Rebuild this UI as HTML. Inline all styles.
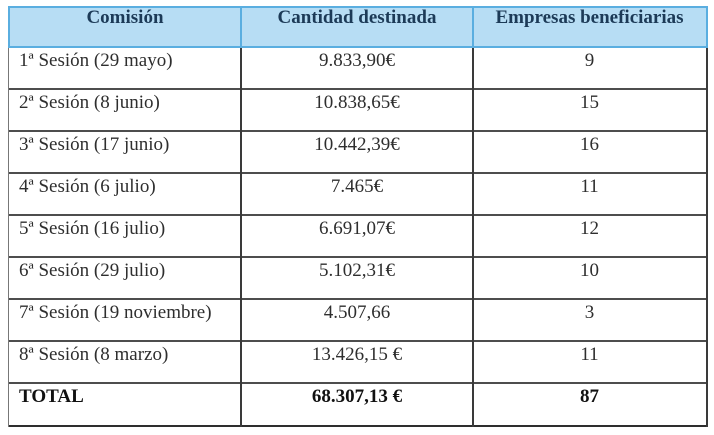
<!DOCTYPE html>
<html>
<head>
<meta charset="utf-8">
<style>
  html,body{margin:0;padding:0;background:#fff;}
  body{width:714px;height:435px;position:relative;overflow:hidden;font-family:"Liberation Serif","Times New Roman",serif;}
  .hdr{position:absolute;left:9px;top:7px;width:697px;height:40px;background:#b7ddf4;}
  .h{position:absolute;background:#4d4d4d;height:2px;}
  .v{position:absolute;background:#3a3a3a;width:2px;}
  .bh{position:absolute;background:#5aaee0;height:2px;}
  .bv{position:absolute;background:#5aaee0;width:2px;}
  .t{position:absolute;font-size:19px;line-height:19px;color:#2e2e2e;white-space:nowrap;}
  .c2{left:241px;width:232px;text-align:center;}
  .c3{left:473px;width:233px;text-align:center;}
  .c1{left:19px;}
  .th{font-weight:bold;color:#1c3a57;}
  .tot{font-weight:bold;color:#111;}
</style>
</head>
<body>
<div class="hdr"></div>
<!-- header borders (blue) -->
<div class="bh" style="left:8px;top:6px;width:700px;"></div>
<div class="bv" style="left:8px;top:6px;height:42px;"></div>
<div class="bv" style="left:240px;top:6px;height:42px;"></div>
<div class="bv" style="left:472px;top:6px;height:42px;"></div>
<div class="bv" style="left:706px;top:6px;height:42px;"></div>
<div class="bh" style="left:8px;top:46px;width:700px;"></div>

<!-- body horizontal lines -->
<div class="h" style="left:8px;top:88px;width:700px;"></div>
<div class="h" style="left:8px;top:130px;width:700px;"></div>
<div class="h" style="left:8px;top:172px;width:700px;"></div>
<div class="h" style="left:8px;top:214px;width:700px;"></div>
<div class="h" style="left:8px;top:256px;width:700px;"></div>
<div class="h" style="left:8px;top:298px;width:700px;"></div>
<div class="h" style="left:8px;top:340px;width:700px;"></div>
<div class="h" style="left:8px;top:382px;width:700px;"></div>
<div class="h" style="left:8px;top:425px;width:700px;background:#2e2e2e;"></div>

<!-- body vertical lines -->
<div class="v" style="left:8px;top:48px;height:379px;background:#777;width:1px;"></div>
<div class="v" style="left:240px;top:48px;height:379px;"></div>
<div class="v" style="left:472px;top:48px;height:379px;"></div>
<div class="v" style="left:706px;top:48px;height:379px;"></div>

<!-- header text -->
<div class="t th" style="left:9px;width:232px;text-align:center;top:8px;">Comisión</div>
<div class="t th c2" style="top:8px;">Cantidad destinada</div>
<div class="t th c3" style="top:8px;">Empresas beneficiarias</div>

<!-- rows -->
<div class="t c1" style="top:51px;">1ª Sesión (29 mayo)</div>
<div class="t c2" style="top:51px;">9.833,90€</div>
<div class="t c3" style="top:51px;">9</div>

<div class="t c1" style="top:93px;">2ª Sesión (8 junio)</div>
<div class="t c2" style="top:93px;">10.838,65€</div>
<div class="t c3" style="top:93px;">15</div>

<div class="t c1" style="top:135px;">3ª Sesión (17 junio)</div>
<div class="t c2" style="top:135px;">10.442,39€</div>
<div class="t c3" style="top:135px;">16</div>

<div class="t c1" style="top:177px;">4ª Sesión (6 julio)</div>
<div class="t c2" style="top:177px;">7.465€</div>
<div class="t c3" style="top:177px;">11</div>

<div class="t c1" style="top:219px;">5ª Sesión (16 julio)</div>
<div class="t c2" style="top:219px;">6.691,07€</div>
<div class="t c3" style="top:219px;">12</div>

<div class="t c1" style="top:261px;">6ª Sesión (29 julio)</div>
<div class="t c2" style="top:261px;">5.102,31€</div>
<div class="t c3" style="top:261px;">10</div>

<div class="t c1" style="top:303px;">7ª Sesión (19 noviembre)</div>
<div class="t c2" style="top:303px;">4.507,66</div>
<div class="t c3" style="top:303px;">3</div>

<div class="t c1" style="top:345px;">8ª Sesión (8 marzo)</div>
<div class="t c2" style="top:345px;">13.426,15 €</div>
<div class="t c3" style="top:345px;">11</div>

<div class="t c1 tot" style="top:387px;">TOTAL</div>
<div class="t c2 tot" style="top:387px;">68.307,13 €</div>
<div class="t c3 tot" style="top:387px;">87</div>
</body>
</html>
